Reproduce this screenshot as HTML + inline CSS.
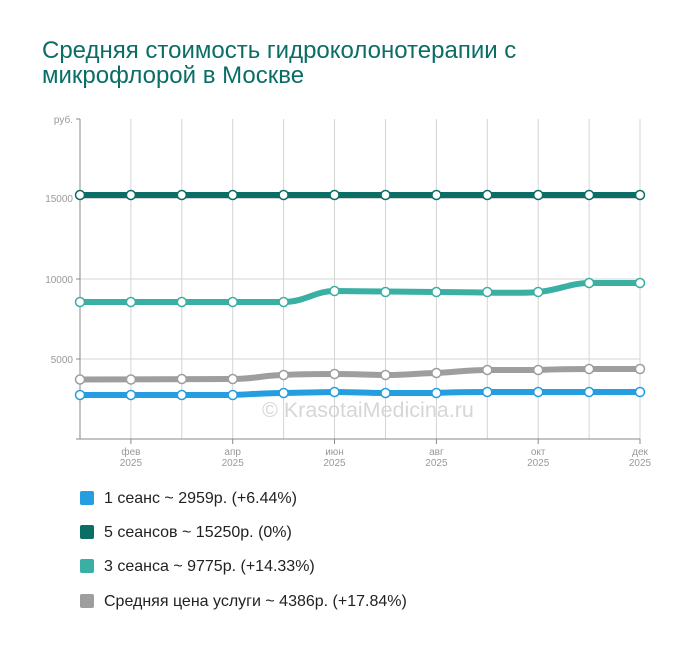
<!DOCTYPE html>
<html><head><meta charset="utf-8"><style>
body{margin:0;background:#fff;width:700px;height:650px;overflow:hidden;font-family:"Liberation Sans",sans-serif}
.t{position:absolute;left:42px;top:38px;font-size:24px;line-height:25px;color:#0b6e66;width:600px}
.lg{position:absolute;left:80px;font-size:16px;color:#222}
.lg i{display:inline-block;width:14px;height:14px;border-radius:2px;vertical-align:-2px;margin-right:10px}
</style></head><body>
<div class="t">Средняя стоимость гидроколонотерапии с<br>микрофлорой в Москве</div>
<svg width="700" height="650" style="position:absolute;left:0;top:0">
<g stroke="#d4d4d4" stroke-width="1">
<line x1="130.9" y1="119" x2="130.9" y2="439"/><line x1="181.8" y1="119" x2="181.8" y2="439"/><line x1="232.7" y1="119" x2="232.7" y2="439"/><line x1="283.6" y1="119" x2="283.6" y2="439"/><line x1="334.5" y1="119" x2="334.5" y2="439"/><line x1="385.5" y1="119" x2="385.5" y2="439"/><line x1="436.4" y1="119" x2="436.4" y2="439"/><line x1="487.3" y1="119" x2="487.3" y2="439"/><line x1="538.2" y1="119" x2="538.2" y2="439"/><line x1="589.1" y1="119" x2="589.1" y2="439"/><line x1="640" y1="119" x2="640" y2="439"/>
<line x1="80" y1="198.5" x2="640" y2="198.5"/><line x1="80" y1="279" x2="640" y2="279"/><line x1="80" y1="359" x2="640" y2="359"/>
</g>
<g stroke="#888" stroke-width="1">
<line x1="80" y1="119" x2="80" y2="439"/><line x1="80" y1="439" x2="640" y2="439"/>
<line x1="76" y1="119" x2="80" y2="119"/><line x1="76" y1="198.5" x2="80" y2="198.5"/><line x1="76" y1="279" x2="80" y2="279"/><line x1="76" y1="359" x2="80" y2="359"/><line x1="76" y1="439" x2="80" y2="439"/>
<line x1="130.9" y1="439" x2="130.9" y2="444"/><line x1="232.7" y1="439" x2="232.7" y2="444"/><line x1="334.5" y1="439" x2="334.5" y2="444"/><line x1="436.4" y1="439" x2="436.4" y2="444"/><line x1="538.2" y1="439" x2="538.2" y2="444"/><line x1="640" y1="439" x2="640" y2="444"/>
</g>
<g font-size="10" fill="#999" text-anchor="end">
<text x="73" y="123">руб.</text><text x="73" y="202">15000</text><text x="73" y="283">10000</text><text x="73" y="363">5000</text>
</g>
<g font-size="10" fill="#999" text-anchor="middle">
<text x="130.9" y="455">фев</text><text x="130.9" y="466">2025</text>
<text x="232.7" y="455">апр</text><text x="232.7" y="466">2025</text>
<text x="334.5" y="455">июн</text><text x="334.5" y="466">2025</text>
<text x="436.4" y="455">авг</text><text x="436.4" y="466">2025</text>
<text x="538.2" y="455">окт</text><text x="538.2" y="466">2025</text>
<text x="640" y="455">дек</text><text x="640" y="466">2025</text>
</g>
<text x="262" y="417" font-size="21.5" fill="#d6d6d6">© KrasotaiMedicina.ru</text>
<g fill="none" stroke-width="6" stroke-linejoin="round" stroke-linecap="round">
<path stroke="#0b6e66" d="M80,195 L640,195"/>
<path stroke="#3aafa3" d="M80,302 C110,302 250,302 283.6,302 C305,302 315,291 334.5,291 C360,291 410,292 436.4,292 C480,292 520,294 538.2,292 C560,290 570,283 589.1,283 C610,283 625,283 640,283"/>
<path stroke="#9e9e9e" d="M80,379.5 L232.7,379 C255,379 265,375 283.6,375 C300,374 320,374 334.5,374 C360,374 365,375 385.5,375 C410,375 420,373 436.4,373 C455,372 470,370 487.3,370 L538.2,370 C560,369 580,369 589.1,369 L640,369"/>
<path stroke="#249ee0" d="M80,395 L232.7,395 C255,394 270,393 283.6,393 L334.5,392 C350,392 370,393 385.5,393 L436.4,393 C455,392 470,392 487.3,392 L640,392"/>
</g>
<g fill="#fff" stroke-width="1.5">
<g stroke="#0b6e66"><circle cx="80" cy="195" r="4.5"/><circle cx="130.9" cy="195" r="4.5"/><circle cx="181.8" cy="195" r="4.5"/><circle cx="232.7" cy="195" r="4.5"/><circle cx="283.6" cy="195" r="4.5"/><circle cx="334.5" cy="195" r="4.5"/><circle cx="385.5" cy="195" r="4.5"/><circle cx="436.4" cy="195" r="4.5"/><circle cx="487.3" cy="195" r="4.5"/><circle cx="538.2" cy="195" r="4.5"/><circle cx="589.1" cy="195" r="4.5"/><circle cx="640" cy="195" r="4.5"/></g>
<g stroke="#3aafa3"><circle cx="80" cy="302" r="4.5"/><circle cx="130.9" cy="302" r="4.5"/><circle cx="181.8" cy="302" r="4.5"/><circle cx="232.7" cy="302" r="4.5"/><circle cx="283.6" cy="302" r="4.5"/><circle cx="334.5" cy="291" r="4.5"/><circle cx="385.5" cy="292" r="4.5"/><circle cx="436.4" cy="292" r="4.5"/><circle cx="487.3" cy="292" r="4.5"/><circle cx="538.2" cy="292" r="4.5"/><circle cx="589.1" cy="283" r="4.5"/><circle cx="640" cy="283" r="4.5"/></g>
<g stroke="#9e9e9e"><circle cx="80" cy="379.5" r="4.5"/><circle cx="130.9" cy="379.5" r="4.5"/><circle cx="181.8" cy="379" r="4.5"/><circle cx="232.7" cy="379" r="4.5"/><circle cx="283.6" cy="375" r="4.5"/><circle cx="334.5" cy="374" r="4.5"/><circle cx="385.5" cy="375" r="4.5"/><circle cx="436.4" cy="373" r="4.5"/><circle cx="487.3" cy="370" r="4.5"/><circle cx="538.2" cy="370" r="4.5"/><circle cx="589.1" cy="369" r="4.5"/><circle cx="640" cy="369" r="4.5"/></g>
<g stroke="#249ee0"><circle cx="80" cy="395" r="4.5"/><circle cx="130.9" cy="395" r="4.5"/><circle cx="181.8" cy="395" r="4.5"/><circle cx="232.7" cy="395" r="4.5"/><circle cx="283.6" cy="393" r="4.5"/><circle cx="334.5" cy="392" r="4.5"/><circle cx="385.5" cy="393" r="4.5"/><circle cx="436.4" cy="393" r="4.5"/><circle cx="487.3" cy="392" r="4.5"/><circle cx="538.2" cy="392" r="4.5"/><circle cx="589.1" cy="392" r="4.5"/><circle cx="640" cy="392" r="4.5"/></g>
</g>
</svg>
<div class="lg" style="top:490px"><i style="background:#249ee0"></i>1 сеанс ~ 2959р. (+6.44%)</div>
<div class="lg" style="top:524px"><i style="background:#0b6e66"></i>5 сеансов ~ 15250р. (0%)</div>
<div class="lg" style="top:558px"><i style="background:#3aafa3"></i>3 сеанса ~ 9775р. (+14.33%)</div>
<div class="lg" style="top:593px"><i style="background:#9e9e9e"></i>Средняя цена услуги ~ 4386р. (+17.84%)</div>
</body></html>
